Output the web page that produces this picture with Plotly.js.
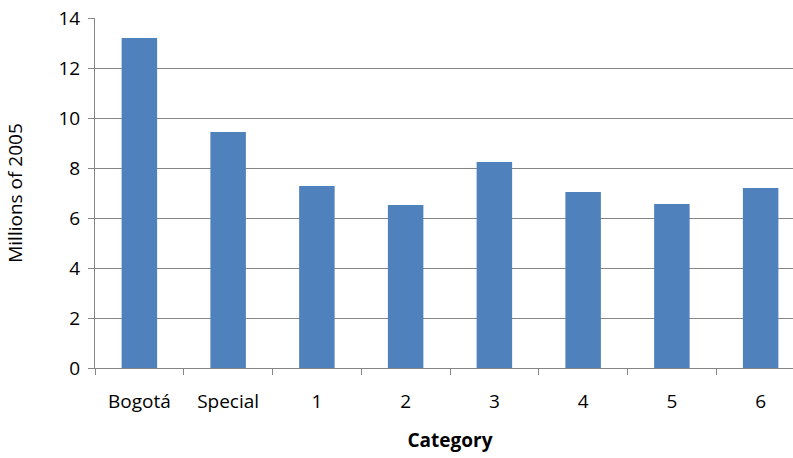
<!DOCTYPE html>
<html>
<head>
<meta charset="utf-8">
<script src="https://cdn.plot.ly/plotly-3.0.1.min.js"></script>
<style>body{margin:0;overflow:hidden}</style>
</head>
<body>
<div id="chart" style="width:810px;height:458px"></div>
<script>
const categories = ['Bogotá', 'Special', '1', '2', '3', '4', '5', '6'];
const values = [13.2, 9.44, 7.28, 6.52, 8.24, 7.04, 6.56, 7.2];
const yTicks = [0, 2, 4, 6, 8, 10, 12, 14];

const font = { family: 'Open Sans, Liberation Sans, sans-serif', size: 19, color: '#000' };

Plotly.newPlot('chart', [{
  type: 'bar',
  x: categories,
  y: values,
  marker: { color: '#4f81bd' },
  hoverinfo: 'none',
}], {
  width: 810,
  height: 458,
  margin: { l: 95, r: 5, t: 18, b: 90 },
  bargap: 0.6,
  font: font,
  showlegend: false,
  paper_bgcolor: '#fff',
  plot_bgcolor: '#fff',
  xaxis: {
    type: 'category',
    tickson: 'boundaries',
    ticks: 'outside',
    ticklen: 6,
    tickcolor: '#868686',
    showline: true,
    linecolor: '#868686',
    showgrid: false,
    ticklabelstandoff: 16,
    tickfont: { size: 19 },
    title: { text: '<b>Category</b>', font: font, standoff: 20 },
  },
  yaxis: {
    range: [0, 14],
    tickvals: yTicks,
    ticks: 'outside',
    ticklen: 6,
    tickcolor: '#868686',
    showline: true,
    linecolor: '#868686',
    gridcolor: '#868686',
    zeroline: false,
    ticklabelstandoff: 4,
    tickfont: { size: 19 },
    title: { text: 'Millions of 2005', font: font, standoff: 30 },
  },
}, { displayModeBar: false, staticPlot: true });
</script>
</body>
</html>
